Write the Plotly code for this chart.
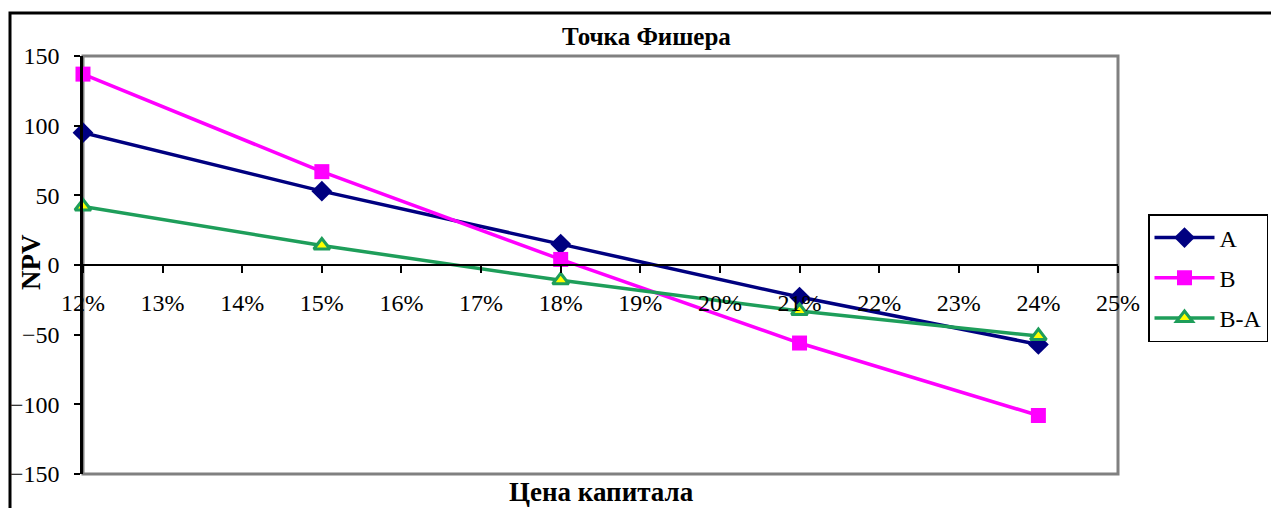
import plotly.graph_objects as go

# NPV of projects A and B and their difference at each cost of capital
rates = [0.12, 0.15, 0.18, 0.21, 0.24]
npv_a = [95, 53, 15, -23, -57]
npv_b = [137, 67, 4, -56, -108]
npv_diff = [42, 14, -11, -33, -51]

series_names = ["A", "B", "B-A"]
y_ticks = [-150, -100, -50, 0, 50, 100, 150]

SERIF = "Liberation Serif, Times New Roman, serif"
NAVY = "#000080"
MAGENTA = "#FF00FF"
GREEN = "#1E9E5A"

fig = go.Figure()

fig.add_trace(go.Scatter(
    x=rates, y=npv_a, name=series_names[0], mode="lines+markers",
    legendgroup="a", cliponaxis=False,
    line=dict(color=NAVY, width=3.5),
    marker=dict(symbol="diamond", size=16, color=NAVY, line=dict(width=0)),
))
fig.add_trace(go.Scatter(
    x=rates, y=npv_b, name=series_names[1], mode="lines+markers",
    legendgroup="b", cliponaxis=False,
    line=dict(color=MAGENTA, width=3.5),
    marker=dict(symbol="square", size=15, color=MAGENTA, line=dict(width=0)),
))
fig.add_trace(go.Scatter(
    x=rates, y=npv_diff, name=series_names[2], mode="lines+markers",
    legendgroup="c", cliponaxis=False,
    line=dict(color=GREEN, width=3.5),
    marker=dict(symbol="triangle-up", size=14, color="#FFFF00",
                line=dict(color=GREEN, width=3)),
))

fig.update_layout(
    width=1271, height=508,
    autosize=False,
    margin=dict(l=83, r=153, t=56, b=34, autoexpand=False),
    paper_bgcolor="white",
    plot_bgcolor="white",
    font=dict(family=SERIF, size=24, color="black"),
    title=dict(
        text="<b>Точка Фишера</b>",
        font=dict(family=SERIF, size=25, color="black"),
        xref="container", yref="container",
        x=646.5 / 1271, y=1 - 36 / 508,
        xanchor="center", yanchor="middle",
    ),
    xaxis=dict(
        range=[0.12, 0.25],
        dtick=0.01, tick0=0.12,
        tickformat=".0%",
        anchor="free", position=0.5,
        showline=True, linecolor="black", linewidth=2,
        ticks="outside", ticklen=7, tickwidth=2, tickcolor="black",
        ticklabelstandoff=9,
        showgrid=False, zeroline=False,
        tickfont=dict(family=SERIF, size=24, color="black"),
    ),
    yaxis=dict(
        range=[-150, 150],
        tickvals=y_ticks,
        showline=True, linecolor="black", linewidth=2.5,
        ticks="outside", ticklen=6, tickwidth=2, tickcolor="black",
        ticklabelstandoff=10,
        showgrid=False, zeroline=False,
        tickfont=dict(family=SERIF, size=24, color="black"),
    ),
    legend=dict(
        x=(1148 - 83) / 1035, y=(474 - 214) / 418,
        xanchor="left", yanchor="top",
        bgcolor="white", bordercolor="black", borderwidth=1.5,
        font=dict(family=SERIF, size=24, color="black"),
        traceorder="grouped", tracegroupgap=6,
        itemwidth=60,
    ),
    showlegend=True,
)

# grey plot-area border
fig.add_shape(type="rect", xref="paper", yref="paper",
              x0=0, x1=1, y0=0, y1=1,
              line=dict(color="#808080", width=3), layer="below")

# black outer frame of the chart
fig.add_shape(type="rect", xref="paper", yref="paper",
              x0=(10 - 83) / 1035, x1=1.4,
              y0=-0.4, y1=(474 - 13) / 418,
              line=dict(color="black", width=3), layer="above")

# axis titles
fig.add_annotation(text="<b>Цена капитала</b>", xref="paper", yref="paper",
                   x=(601.5 - 83) / 1035, y=(474 - 492) / 418,
                   xanchor="center", yanchor="middle", showarrow=False,
                   font=dict(family=SERIF, size=27, color="black"))
fig.add_annotation(text="<b>NPV</b>", xref="paper", yref="paper",
                   x=(31 - 83) / 1035, y=(474 - 262) / 418,
                   xanchor="center", yanchor="middle", showarrow=False,
                   textangle=-90,
                   font=dict(family=SERIF, size=27, color="black"))

fig.write_html("out.html")
